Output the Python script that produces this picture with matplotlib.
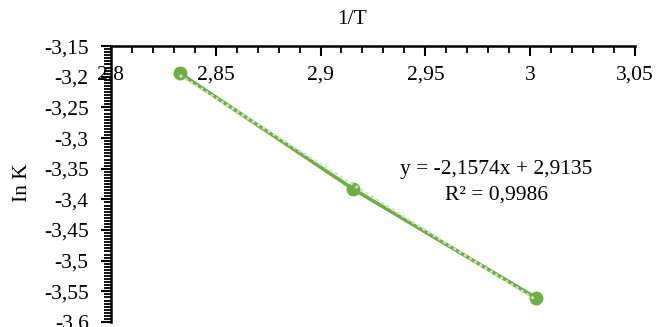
import numpy as np
import matplotlib
matplotlib.use("Agg")
import matplotlib.pyplot as plt
from matplotlib.ticker import MultipleLocator, FuncFormatter

# data
inv_T = [2.8329, 2.9155, 3.003]
lnK = [-3.194, -3.383, -3.561]
eq_text = "y = -2,1574x + 2,9135"
r2_text = "R\u00b2 = 0,9986"

plt.rcParams['font.family'] = ['Liberation Serif', 'DejaVu Serif']
fs = 15.5

fig = plt.figure(figsize=(6.56, 3.27), dpi=100)
ax = fig.add_axes([0.169, 0.0153, 0.799, 0.8437])

green = '#70AD47'
ax.plot(inv_T, lnK, color=green, lw=2.6, marker='o', ms=9, zorder=3)

# linear trendline (dotted, drawn over the series)
k, b = np.polyfit(inv_T, lnK, 1)
xt = np.array([inv_T[0], inv_T[-1]])
ax.plot(xt, k * xt + b, color='#CFE5C0', lw=2.0, ls=(0, (1, 1.2)), zorder=4)

ax.set_xlim(2.8, 3.05)
ax.set_ylim(-3.6, -3.15)

# x axis crosses at the top
ax.spines['bottom'].set_position(('data', -3.15))
ax.spines['top'].set_visible(False)
ax.spines['right'].set_visible(False)
for s in ['bottom', 'left']:
    ax.spines[s].set_linewidth(1.8)

com = FuncFormatter(lambda v, p: ('%g' % round(v, 3)).replace('.', ','))
ax.xaxis.set_major_locator(MultipleLocator(0.05))
ax.xaxis.set_minor_locator(MultipleLocator(0.01))
ax.yaxis.set_major_locator(MultipleLocator(0.05))
ax.yaxis.set_minor_locator(MultipleLocator(0.005))
ax.xaxis.set_major_formatter(com)
ax.yaxis.set_major_formatter(com)

ax.tick_params(axis='both', which='major', labelsize=fs, width=1.5, length=7, direction='out')
ax.tick_params(axis='both', which='minor', width=1.3, length=5, direction='out')
ax.tick_params(axis='x', which='major', pad=7)
ax.tick_params(axis='y', which='major', pad=9)

fig.text(352 / 656, 1 - 20 / 327, '1/T', fontsize=fs, ha='center', va='center')
fig.text(0.034, 0.44, 'In K', fontsize=fs, rotation=90, ha='center', va='center')

ax.text(2.984, -3.352, eq_text, fontsize=fs, ha='center', va='center')
ax.text(2.984, -3.393, r2_text, fontsize=fs, ha='center', va='center')

fig.savefig('out.png', dpi=100)
